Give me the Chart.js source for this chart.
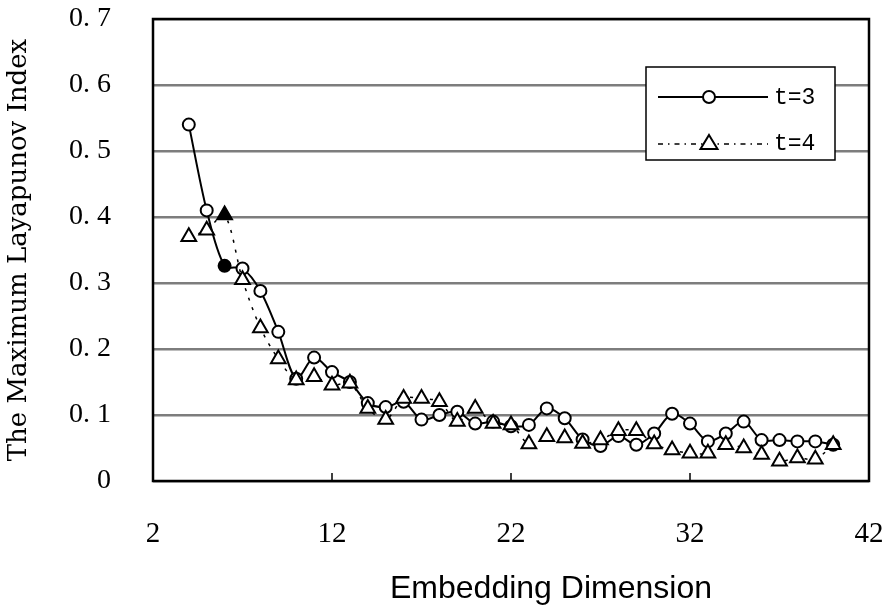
<!DOCTYPE html>
<html>
<head>
<meta charset="utf-8">
<script src="https://cdn.jsdelivr.net/npm/chart.js@4"></script>
<style>
  html, body { margin: 0; padding: 0; background: #fff; }
  #wrap { width: 893px; height: 612px; }
</style>
</head>
<body>
<div id="wrap"><canvas id="c"></canvas></div>
<script>
const dims = [4, 5, 6, 7, 8, 9, 10, 11, 12, 13, 14, 15, 16, 17, 18, 19, 20, 21, 22,
  23, 24, 25, 26, 27, 28, 29, 30, 31, 32, 33, 34, 35, 36, 37, 38, 39, 40];

const t3 = [0.54, 0.41, 0.326, 0.322, 0.288, 0.226, 0.155, 0.187, 0.165, 0.15,
  0.118, 0.112, 0.12, 0.093, 0.1, 0.105, 0.087, 0.09, 0.083, 0.085, 0.11, 0.095,
  0.063, 0.053, 0.068, 0.055, 0.072, 0.102, 0.087, 0.06, 0.072, 0.09, 0.062,
  0.062, 0.06, 0.06, 0.055];

const t4 = [0.37, 0.38, 0.403, 0.305, 0.232, 0.185, 0.153, 0.158, 0.145, 0.148,
  0.11, 0.093, 0.125, 0.125, 0.12, 0.09, 0.11, 0.087, 0.085, 0.056, 0.067, 0.065,
  0.057, 0.062, 0.076, 0.076, 0.056, 0.047, 0.042, 0.042, 0.055, 0.05, 0.04,
  0.03, 0.035, 0.033, 0.055];

const xTicks = [2, 12, 22, 32, 42];
const yTickLabels = ["0", "0. 1", "0. 2", "0. 3", "0. 4", "0. 5", "0. 6", "0. 7"];
const xTitle = "Embedding Dimension";

// the sixth point of each series is drawn filled
const filled = 6;

function pts(vals) {
  return dims.map((d, i) => ({ x: d, y: vals[i] }));
}

function fills(col) {
  return dims.map((d) => (d === filled ? "#000" : col));
}

const frame = {
  id: "frame",
  afterDatasetsDraw(chart) {
    const { ctx, chartArea: a, scales } = chart;
    ctx.save();
    // small inner ticks on the x axis
    ctx.strokeStyle = "#000";
    ctx.lineWidth = 1.5;
    [12, 22, 32].forEach((v) => {
      const px = scales.x.getPixelForValue(v);
      ctx.beginPath();
      ctx.moveTo(px, a.bottom);
      ctx.lineTo(px, a.bottom - 8);
      ctx.stroke();
    });
    ctx.lineWidth = 2.5;
    ctx.strokeRect(a.left, a.top, a.right - a.left, a.bottom - a.top);

    // x title sits a little right of centre in the original
    ctx.fillStyle = "#000";
    ctx.font = "32px 'Liberation Sans', Arial, sans-serif";
    ctx.textAlign = "center";
    ctx.textBaseline = "middle";
    ctx.fillText(xTitle, 551, 589);

    // legend box
    const lx = 646, ly = 67, lw = 189, lh = 93;
    ctx.fillStyle = "#fff";
    ctx.fillRect(lx, ly, lw, lh);
    ctx.lineWidth = 1.5;
    ctx.strokeRect(lx, ly, lw, lh);

    ctx.lineWidth = 2;
    ctx.beginPath();
    ctx.moveTo(658, 97);
    ctx.lineTo(768, 97);
    ctx.stroke();
    ctx.beginPath();
    ctx.arc(709, 97, 6, 0, Math.PI * 2);
    ctx.fillStyle = "#fff";
    ctx.fill();
    ctx.stroke();

    ctx.lineWidth = 1.5;
    ctx.setLineDash([5, 5, 1.5, 5]);
    ctx.beginPath();
    ctx.moveTo(658, 144);
    ctx.lineTo(768, 144);
    ctx.stroke();
    ctx.setLineDash([]);
    ctx.lineWidth = 2;
    ctx.beginPath();
    ctx.moveTo(709, 135);
    ctx.lineTo(717.5, 149);
    ctx.lineTo(700.5, 149);
    ctx.closePath();
    ctx.fillStyle = "#fff";
    ctx.fill();
    ctx.stroke();

    ctx.fillStyle = "#000";
    ctx.font = "23px 'Liberation Mono', 'DejaVu Sans Mono', monospace";
    ctx.textAlign = "left";
    ctx.fillText("t=3", 774, 98);
    ctx.fillText("t=4", 774, 144);
    ctx.restore();
  },
};

new Chart(document.getElementById("c"), {
  type: "scatter",
  data: {
    datasets: [
      {
        label: "t=4",
        data: pts(t4),
        showLine: true,
        borderColor: "#000",
        borderWidth: 1.5,
        borderDash: [3, 7],
        tension: 0.3,
        pointStyle: "triangle",
        pointRadius: 8.5,
        pointBorderWidth: 2,
        pointBorderColor: "#000",
        pointBackgroundColor: fills("#fff"),
      },
      {
        label: "t=3",
        data: pts(t3),
        showLine: true,
        borderColor: "#000",
        borderWidth: 2,
        tension: 0.3,
        pointStyle: "circle",
        pointRadius: 6,
        pointBorderWidth: 2,
        pointBorderColor: "#000",
        pointBackgroundColor: fills("#fff"),
      },
    ],
  },
  options: {
    responsive: true,
    maintainAspectRatio: false,
    animation: false,
    layout: { padding: { top: 19, right: 24, left: 0, bottom: 0 } },
    plugins: {
      legend: { display: false },
      tooltip: { enabled: false },
    },
    scales: {
      x: {
        type: "linear",
        min: 2,
        max: 42,
        afterBuildTicks: (s) => {
          s.ticks = xTicks.map((v) => ({ value: v }));
        },
        grid: { display: false },
        border: { display: false },
        ticks: {
          color: "#000",
          padding: 28,
          font: { family: "'Liberation Serif', serif", size: 29 },
        },
        afterFit: (s) => {
          s.height = 131;
          s.paddingLeft = 0;
          s.paddingRight = 0;
        },
      },
      y: {
        min: 0,
        max: 0.7,
        ticks: {
          stepSize: 0.1,
          color: "#000",
          padding: 42,
          font: { family: "'Liberation Serif', serif", size: 28 },
          callback: (v, i) => yTickLabels[i],
        },
        grid: {
          color: "#7d7d7d",
          lineWidth: 2.5,
          drawTicks: false,
        },
        border: { display: false },
        title: {
          display: true,
          text: "The Maximum Layapunov Index",
          color: "#000",
          padding: { bottom: 6 },
          font: { family: "'DejaVu Serif', serif", size: 26 },
        },
        afterFit: (s) => {
          s.width = 153;
          s.paddingTop = 0;
          s.paddingBottom = 0;
        },
      },
    },
  },
  plugins: [frame],
});
</script>
</body>
</html>
